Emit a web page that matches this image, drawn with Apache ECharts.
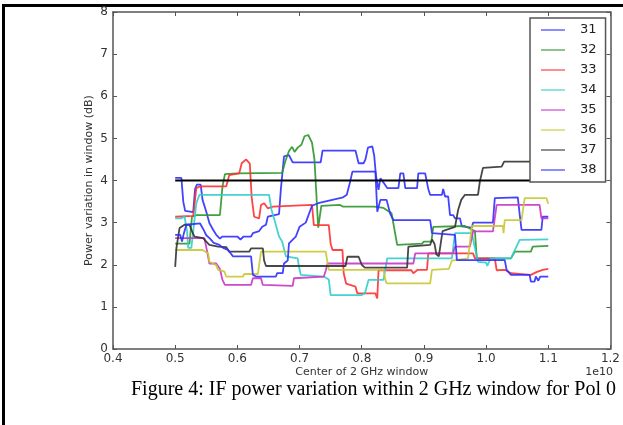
<!DOCTYPE html>
<html>
<head>
<meta charset="utf-8">
<script src="https://cdn.jsdelivr.net/npm/echarts@6/dist/echarts.min.js"></script>
<style>
html,body{margin:0;padding:0;background:#fff;}
#chart{width:623px;height:425px;}
</style>
</head>
<body>
<div id="chart"></div>
<script>
// ---- data (x in units of 1e10 Hz, y in dB) ----
const seriesNames = ['31','32','33','34','35','36','37','38'];
const xTicks = [0.4,0.5,0.6,0.7,0.8,0.9,1.0,1.1,1.2];
const yTicks = [0,1,2,3,4,5,6,7,8];

const s31 = [[0.5,4.06],[0.51,4.06],[0.513,3.5],[0.516,3.28],[0.529,3.25],[0.532,3.8],[0.535,3.9],[0.541,3.9],[0.544,3.54],[0.55,3.26],[0.555,2.99],[0.561,2.83],[0.566,2.71],[0.572,2.62],[0.576,2.67],[0.6,2.67],[0.605,2.6],[0.61,2.67],[0.622,2.67],[0.625,2.75],[0.635,2.8],[0.64,2.9],[0.646,2.95],[0.649,3.14],[0.667,3.2],[0.67,3.8],[0.675,4.57],[0.683,4.6],[0.689,4.43],[0.734,4.43],[0.737,4.71],[0.79,4.71],[0.795,4.41],[0.803,4.41],[0.806,4.5],[0.81,4.78],[0.817,4.81],[0.82,4.6],[0.823,4.1],[0.827,3.78],[0.83,4.05],[0.835,3.95],[0.841,3.82],[0.859,3.82],[0.862,4.17],[0.867,4.17],[0.87,3.82],[0.889,3.82],[0.891,4.17],[0.902,4.17],[0.907,3.8],[0.91,3.66],[0.929,3.66],[0.931,3.8],[0.934,3.62],[0.939,3.62],[0.942,3.18],[0.947,3.18],[0.95,3.1],[0.958,3.1],[0.961,2.91],[0.977,2.88],[0.979,3.0],[1.011,3.0],[1.014,3.58],[1.051,3.6],[1.054,3.2],[1.057,2.83],[1.089,2.83],[1.091,3.14],[1.1,3.14]];
const s32 = [[0.5,2.5],[0.523,2.5],[0.527,3.14],[0.534,3.18],[0.572,3.18],[0.576,3.85],[0.58,4.15],[0.6,4.17],[0.672,4.18],[0.677,4.45],[0.683,4.7],[0.688,4.8],[0.692,4.68],[0.697,4.78],[0.703,4.85],[0.708,5.05],[0.714,5.08],[0.72,4.9],[0.724,4.5],[0.73,2.88],[0.735,3.4],[0.765,3.42],[0.768,3.46],[0.77,3.38],[0.82,3.38],[0.835,3.35],[0.848,3.22],[0.857,2.47],[0.897,2.5],[0.9,2.55],[0.912,2.55],[0.915,2.9],[0.966,2.92],[0.975,2.85],[0.982,2.8],[0.985,2.15],[1.04,2.15],[1.046,2.31],[1.072,2.31],[1.075,2.43],[1.1,2.45]];
const s33 = [[0.5,3.14],[0.529,3.16],[0.534,3.82],[0.54,3.86],[0.582,3.86],[0.587,4.13],[0.603,4.17],[0.607,4.41],[0.614,4.5],[0.617,4.53],[0.62,4.4],[0.623,3.6],[0.627,3.14],[0.635,3.1],[0.638,3.42],[0.643,3.46],[0.649,3.34],[0.657,3.38],[0.72,3.42],[0.723,2.94],[0.747,2.94],[0.75,2.5],[0.753,2.35],[0.769,2.35],[0.771,1.8],[0.775,1.55],[0.79,1.48],[0.793,1.32],[0.822,1.32],[0.825,1.2],[0.827,1.87],[0.88,1.87],[0.883,1.8],[0.89,1.88],[0.905,1.88],[0.907,2.27],[0.979,2.27],[0.982,2.15],[1.014,2.15],[1.017,1.87],[1.03,1.88],[1.04,1.8],[1.072,1.76],[1.08,1.82],[1.091,1.88],[1.1,1.9]];
const s34 = [[0.5,3.1],[0.51,3.1],[0.515,3.15],[0.519,2.8],[0.521,2.4],[0.526,2.4],[0.529,2.8],[0.534,3.46],[0.539,3.66],[0.651,3.66],[0.655,3.3],[0.66,3.05],[0.667,2.67],[0.672,2.55],[0.678,2.2],[0.697,2.15],[0.699,1.96],[0.702,1.76],[0.739,1.72],[0.747,1.65],[0.75,1.28],[0.8,1.28],[0.805,1.32],[0.811,1.64],[0.835,1.64],[0.841,2.15],[0.945,2.15],[0.95,2.75],[0.977,2.75],[0.982,2.4],[0.987,2.07],[1.0,2.05],[1.002,1.97],[1.005,1.97],[1.007,2.15],[1.04,2.15],[1.054,2.59],[1.1,2.6]];
const s35 = [[0.5,2.63],[0.547,2.63],[0.552,2.27],[0.555,2.03],[0.566,2.03],[0.572,1.9],[0.576,1.64],[0.58,1.52],[0.622,1.52],[0.625,1.68],[0.638,1.68],[0.641,1.52],[0.689,1.5],[0.691,1.68],[0.739,1.72],[0.742,1.85],[0.745,2.03],[0.883,2.03],[0.886,2.27],[0.947,2.27],[0.95,2.43],[0.974,2.43],[0.979,2.79],[1.011,2.79],[1.017,3.42],[1.086,3.42],[1.089,3.1],[1.1,3.1]];
const s36 = [[0.5,2.35],[0.544,2.35],[0.553,2.27],[0.555,2.07],[0.566,1.99],[0.569,1.88],[0.579,1.84],[0.582,1.72],[0.609,1.72],[0.611,1.78],[0.633,1.78],[0.638,2.31],[0.742,2.31],[0.747,1.88],[0.835,1.88],[0.838,1.64],[0.84,1.56],[0.91,1.56],[0.913,1.88],[0.94,1.9],[0.945,2.1],[0.971,2.15],[0.977,2.92],[1.027,2.92],[1.028,2.75],[1.03,3.06],[1.057,3.06],[1.062,3.58],[1.097,3.58],[1.1,3.45]];
const s37 = [[0.5,1.95],[0.502,2.4],[0.507,2.87],[0.515,2.95],[0.523,2.95],[0.527,2.8],[0.531,2.67],[0.545,2.63],[0.55,2.55],[0.555,2.47],[0.569,2.43],[0.582,2.42],[0.587,2.31],[0.619,2.31],[0.622,2.39],[0.641,2.39],[0.643,2.1],[0.646,1.97],[0.774,1.97],[0.777,2.19],[0.795,2.19],[0.8,2.0],[0.805,1.93],[0.873,1.93],[0.875,2.43],[0.91,2.47],[0.913,2.6],[0.917,2.5],[0.92,2.25],[0.924,2.2],[0.927,2.5],[0.93,2.8],[0.95,2.9],[0.955,3.3],[0.96,3.54],[0.966,3.66],[0.987,3.66],[0.99,3.98],[0.995,4.3],[1.025,4.33],[1.029,4.45],[1.1,4.45]];
const s38 = [[0.5,2.71],[0.508,2.71],[0.511,2.55],[0.514,2.75],[0.518,2.95],[0.54,2.98],[0.545,2.85],[0.55,2.7],[0.556,2.62],[0.562,2.52],[0.57,2.48],[0.577,2.4],[0.585,2.35],[0.593,2.2],[0.622,2.2],[0.625,1.76],[0.63,1.72],[0.662,1.72],[0.664,1.8],[0.673,1.8],[0.675,2.03],[0.681,2.1],[0.683,2.51],[0.694,2.67],[0.7,2.9],[0.71,3.0],[0.72,3.4],[0.73,3.46],[0.77,3.6],[0.776,3.66],[0.781,3.95],[0.785,4.21],[0.822,4.21],[0.825,3.26],[0.83,3.54],[0.84,3.54],[0.846,3.2],[0.851,3.06],[0.91,3.06],[0.913,2.75],[0.95,2.71],[0.953,2.11],[1.03,2.11],[1.033,1.88],[1.04,1.76],[1.07,1.76],[1.072,1.6],[1.078,1.6],[1.08,1.72],[1.084,1.62],[1.087,1.72],[1.1,1.72]];
const threshold = [[0.5,4.0],[1.1,4.0]];

const seriesData = [s31,s32,s33,s34,s35,s36,s37,s38];
const seriesColors = ['#2f2fff','#2e962e','#ff3030','#33cccc','#c836c8','#c8c832','#333333','#2f2fff'];

const chart = echarts.init(document.getElementById('chart'), null, {renderer:'canvas'});
const axisColor = '#555';
const labelFont = {fontFamily:'DejaVu Sans', fontSize:12, color:'#333'};

const series = seriesNames.map((n,i)=>({
  name:n, type:'line', data:seriesData[i], showSymbol:false, symbol:'none',
  xAxisIndex:0, yAxisIndex:0,
  lineStyle:{color:seriesColors[i], width:1.8, opacity:0.9},
  itemStyle:{color:seriesColors[i], opacity:0.55},
  emphasis:{disabled:true}, z:2
}));
series.push({
  name:'thr', type:'line', data:threshold, showSymbol:false, symbol:'none',
  lineStyle:{color:'#000', width:2}, itemStyle:{color:'#000'}, z:3, emphasis:{disabled:true}
});

chart.setOption({
  animation:false,
  backgroundColor:'#fff',
  grid:{left:113, top:12, width:500, height:337},
  title:{text:'Figure 4: IF power variation within 2 GHz window for Pol 0', left:131, top:380, padding:0,
    textStyle:{fontFamily:'Liberation Serif', fontSize:20, fontWeight:'normal', color:'#000'}},
  legend:{
    data:seriesNames, orient:'vertical', left:530, top:18,
    icon:'rect', itemWidth:24, itemHeight:2, itemGap:0,
    padding:[2,9,2,11],
    backgroundColor:'#fff', borderColor:'#555', borderWidth:1.5, borderRadius:0,
    textStyle:{fontFamily:'DejaVu Sans', fontSize:13, color:'#222', lineHeight:20, padding:[0,0,0,10]},
    selectedMode:false
  },
  xAxis:[{
    type:'value', min:0.4, max:1.2, interval:0.1, position:'bottom',
    name:'Center of 2 GHz window', nameLocation:'middle', nameGap:18, nameMoveOverlap:false,
    nameTextStyle:{fontFamily:'DejaVu Sans', fontSize:11, color:'#333'},
    axisLine:{show:true, onZero:false, lineStyle:{color:axisColor, width:1.5}},
    axisTick:{show:true, inside:true, length:4, lineStyle:{color:axisColor}},
    axisLabel:Object.assign({margin:4, formatter:v=>v.toFixed(1)}, labelFont),
    splitLine:{show:false}
  },{
    type:'value', min:0.4, max:1.2, interval:0.1, position:'top',
    axisLine:{show:true, onZero:false, lineStyle:{color:axisColor, width:1.5}},
    axisTick:{show:true, inside:true, length:4, lineStyle:{color:axisColor}},
    axisLabel:{show:false}, splitLine:{show:false}
  }],
  yAxis:[{
    type:'value', min:0, max:8, interval:1, position:'left',
    name:'Power variation in window (dB)', nameLocation:'middle', nameGap:18, nameMoveOverlap:false,
    nameTextStyle:{fontFamily:'DejaVu Sans', fontSize:11, color:'#333'},
    axisLine:{show:true, onZero:false, lineStyle:{color:axisColor, width:1.5}},
    axisTick:{show:true, inside:true, length:4, lineStyle:{color:axisColor}},
    axisLabel:Object.assign({margin:5}, labelFont),
    splitLine:{show:false}
  },{
    type:'value', min:0, max:8, interval:1, position:'right',
    axisLine:{show:true, onZero:false, lineStyle:{color:axisColor, width:1.5}},
    axisTick:{show:true, inside:true, length:4, lineStyle:{color:axisColor}},
    axisLabel:{show:false}, splitLine:{show:false}
  }],
  graphic:[
    {type:'text', right:10, top:367, style:{text:'1e10', font:'11px "DejaVu Sans"', fill:'#333'}},
    {type:'line', shape:{x1:3, y1:5.5, x2:623, y2:5.5}, style:{stroke:'#000', lineWidth:3}},
    {type:'line', shape:{x1:3.5, y1:4, x2:3.5, y2:425}, style:{stroke:'#000', lineWidth:3}}
  ],
  series:series
});
</script>
</body>
</html>
